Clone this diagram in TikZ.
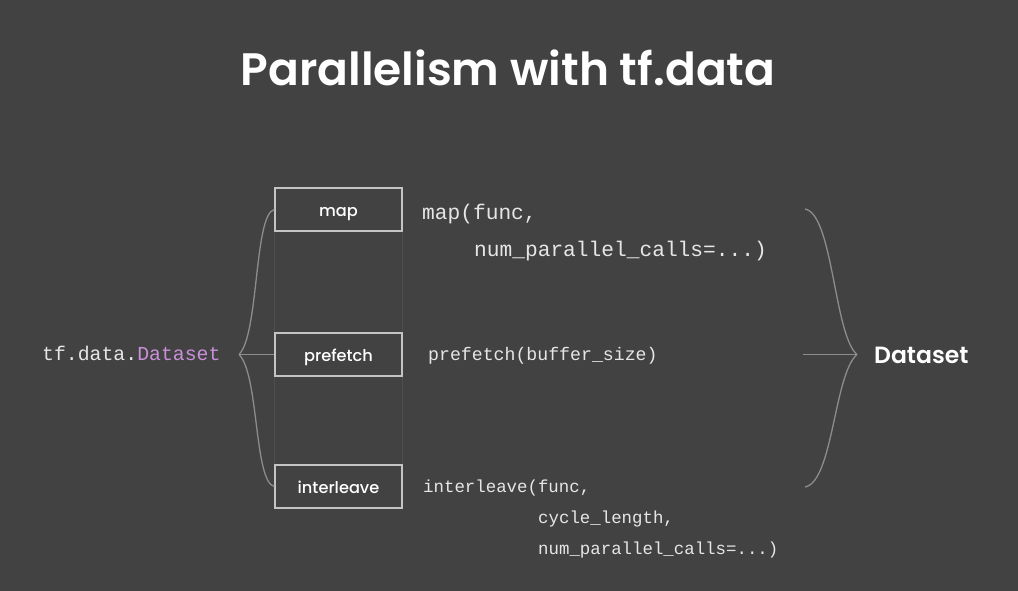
\documentclass[tikz,border=0pt]{standalone}
\usepackage{fontspec}
\setmainfont{Poppins}[BoldFont={* SemiBold}]
\setmonofont{Liberation Mono}
\newfontfamily\medfont{Poppins Medium}
\definecolor{bg}{HTML}{424242}
\definecolor{boxline}{HTML}{C4C4C4}
\definecolor{brace}{HTML}{8C8C8C}
\definecolor{faint}{HTML}{4E4E4E}
\definecolor{codetxt}{HTML}{E6E6E6}
\definecolor{purp}{HTML}{C98FD8}
\tikzset{
  opbox/.style={draw=boxline, line width=1.4pt, minimum width=127pt, minimum height=43pt, inner sep=0pt, text height=14pt, text depth=0pt, text=white, font=\medfont\fontsize{16.2}{19}\selectfont},
  bracecurve/.style={draw=brace, line width=1.3pt},
  faintline/.style={draw=faint, line width=1pt},
  code/.style={anchor=mid west, inner sep=0pt, text=codetxt},
}
\begin{document}
\begin{tikzpicture}[x=1pt,y=-1pt]
\fill[bg] (0,0) rectangle (1018,591);
\useasboundingbox (0,0) rectangle (1018,591);

\node[text=white, font=\fontsize{45.5}{50}\selectfont\bfseries] (title) at (508,68) {Parallelism with tf.data};

% boxes
\node[opbox] (map) at (338.5,209.5) {map};
\node[opbox] (prefetch) at (338.5,354.5) {prefetch};
\node[opbox] (interleave) at (338.5,486.5) {interleave};

% faint vertical lines
\draw[faintline] (map.south west) -- (prefetch.north west);
\draw[faintline] (prefetch.south west) -- (interleave.north west);
\draw[faintline] (map.south east) -- (prefetch.north east);
\draw[faintline] (prefetch.south east) -- (interleave.north east);

% left brace
\coordinate (ltip) at (239,354.5);
\draw[bracecurve] (map.west) .. controls (254,214) and (259,335) .. (ltip);
\draw[bracecurve] (ltip) .. controls (259,374) and (254,482) .. (interleave.west);
\draw[bracecurve] (ltip) -- (prefetch.west);

% right brace
\coordinate (rtop) at (805,209);
\coordinate (rbot) at (805,487);
\coordinate (rtip) at (857,354.5);
\coordinate (rin) at (803,354.5);
\draw[bracecurve] (rtop) .. controls (833,214) and (834,335) .. (rtip);
\draw[bracecurve] (rtip) .. controls (834,374) and (833,482) .. (rbot);
\draw[bracecurve] (rin) -- (rtip);

\node[anchor=west, inner sep=0pt, text=white, font=\fontsize{23.5}{27}\selectfont\bfseries] (out) at (874,355) {Dataset};

\node[code, font=\ttfamily\fontsize{19.8}{24}\selectfont] (src) at (42,358) {tf.data.\textcolor{purp}{Dataset}};

% code text
\node[code, font=\ttfamily\fontsize{21.2}{24}\selectfont] (mapc1) at (422,217) {map(func,};
\node[code, font=\ttfamily\fontsize{21.2}{24}\selectfont] (mapc2) at (474,254) {num\_parallel\_calls=...)};
\node[code, font=\ttfamily\fontsize{18.2}{22}\selectfont] (prec) at (428,358) {prefetch(buffer\_size)};
\node[code, font=\ttfamily\fontsize{17.4}{21}\selectfont] (intc1) at (423,490) {interleave(func,};
\node[code, font=\ttfamily\fontsize{17.4}{21}\selectfont] (intc2) at (538,521) {cycle\_length,};
\node[code, font=\ttfamily\fontsize{17.4}{21}\selectfont] (intc3) at (538,552) {num\_parallel\_calls=...)};
\end{tikzpicture}
\end{document}
